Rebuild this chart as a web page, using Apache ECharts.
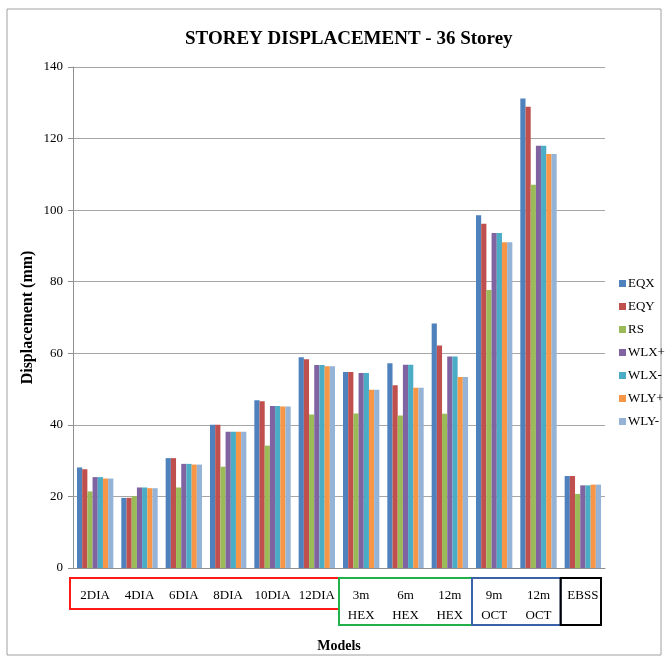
<!DOCTYPE html>
<html><head><meta charset="utf-8">
<script src="https://cdn.jsdelivr.net/npm/echarts@6/dist/echarts.min.js"></script>
<style>html,body{margin:0;padding:0;background:#fff}#c{width:671px;height:664px}</style>
</head><body><div id="c"></div>
<script>
const categories = ['2DIA','4DIA','6DIA','8DIA','10DIA','12DIA','3m\nHEX','6m\nHEX','12m\nHEX','9m\nOCT','12m\nOCT','EBSS'];
const EQX  = [28.1, 19.6, 30.7, 40.0, 46.9, 58.9, 54.8, 57.2, 68.3, 98.6, 131.2, 25.7];
const EQY  = [27.6, 19.6, 30.7, 40.0, 46.6, 58.3, 54.8, 51.1, 62.2, 96.2, 128.9, 25.7];
const RS   = [21.4, 20.1, 22.5, 28.3, 34.2, 42.9, 43.2, 42.6, 43.1, 77.7, 107.1, 20.7];
const WLXp = [25.4, 22.5, 29.1, 38.1, 45.3, 56.7, 54.5, 56.8, 59.1, 93.6, 118.0, 23.1];
const WLXm = [25.4, 22.5, 29.1, 38.1, 45.3, 56.7, 54.5, 56.8, 59.1, 93.6, 118.0, 23.1];
const WLYp = [25.0, 22.3, 28.9, 38.1, 45.1, 56.4, 49.8, 50.4, 53.4, 91.0, 115.7, 23.3];
const WLYm = [25.0, 22.3, 28.9, 38.1, 45.1, 56.4, 49.8, 50.4, 53.4, 91.0, 115.7, 23.3];
const seriesNames = ['EQX','EQY','RS','WLX+','WLX-','WLY+','WLY-'];
const seriesData = [EQX, EQY, RS, WLXp, WLXm, WLYp, WLYm];
const colors = ['#4F81BD','#C0504D','#9BBB59','#8064A2','#4BACC6','#F79646','#95B3D7'];
// label groups (category index ranges) with box colours
const groups = [
  {from:0, to:5, color:'#ff1a1a', tall:false},
  {from:6, to:8, color:'#22b04b', tall:true},
  {from:9, to:10, color:'#3a62a8', tall:true},
  {from:11, to:11, color:'#000000', tall:true}
];

const serif = '"Liberation Serif","DejaVu Serif",serif';
const chart = echarts.init(document.getElementById('c'));
chart.setOption({
  animation:false,
  color: colors,
  title:{text:'STOREY DISPLACEMENT - 36 Storey', left:180, top:25,
    textStyle:{fontFamily:serif, fontWeight:'bold', fontSize:19, color:'#000'}},
  grid:{left:73, right:66, top:67, bottom:96},
  legend:{orient:'vertical', left:614, top:272, itemWidth:7, itemHeight:7, itemGap:10,
    icon:'rect', textStyle:{fontFamily:serif, fontSize:13, color:'#000', padding:[0,0,0,-3]},
    data: seriesNames},
  xAxis:{type:'category', data:categories,
    axisLine:{lineStyle:{color:'#909090'}}, axisTick:{show:false},
    axisLabel:{fontFamily:serif, fontSize:13, color:'#000', margin:18, lineHeight:20, interval:0},
    name:'Models', nameLocation:'middle', nameGap:71,
    nameTextStyle:{fontFamily:serif, fontWeight:'bold', fontSize:14, color:'#000'}},
  yAxis:{type:'value', min:0, max:140, interval:20,
    axisLine:{show:true, lineStyle:{color:'#909090'}},
    axisTick:{show:true, length:5, lineStyle:{color:'#909090'}},
    splitLine:{lineStyle:{color:'#a6a6a6'}},
    axisLabel:{fontFamily:serif, fontSize:13, color:'#000', margin:10},
    name:'Displacement (mm)', nameLocation:'middle', nameGap:37, nameMoveOverlap:false,
    nameTextStyle:{fontFamily:serif, fontWeight:'bold', fontSize:16, color:'#000'}},
  series: seriesNames.map((n,i)=>({name:n, type:'bar', data:seriesData[i],
    barGap:'0%', barCategoryGap:'18%'}))
});

// decorative boxes around label groups, positioned from the axis scale
const p0 = chart.convertToPixel({xAxisIndex:0}, 0);
const p1 = chart.convertToPixel({xAxisIndex:0}, 1);
const bw = p1 - p0;
const yBase = chart.convertToPixel({yAxisIndex:0}, 0);
const elements = [{type:'rect', shape:{x:7, y:9, width:654, height:646},
  style:{fill:'none', stroke:'#a0a0a0', lineWidth:1}, silent:true}];
groups.forEach((g,k)=>{
  let x0 = chart.convertToPixel({xAxisIndex:0}, g.from) - bw/2;
  let x1 = chart.convertToPixel({xAxisIndex:0}, g.to) + bw/2;
  if (k===0) x0 -= 3;
  if (k===groups.length-1) x1 -= 4;
  const top = yBase + 10;
  const h = g.tall ? 47 : 31;
  elements.push({type:'rect', shape:{x:x0, y:top, width:x1-x0, height:h},
    style:{fill:'none', stroke:g.color, lineWidth:2}, silent:true, z:10});
});
chart.setOption({graphic:{elements}});
</script></body></html>
